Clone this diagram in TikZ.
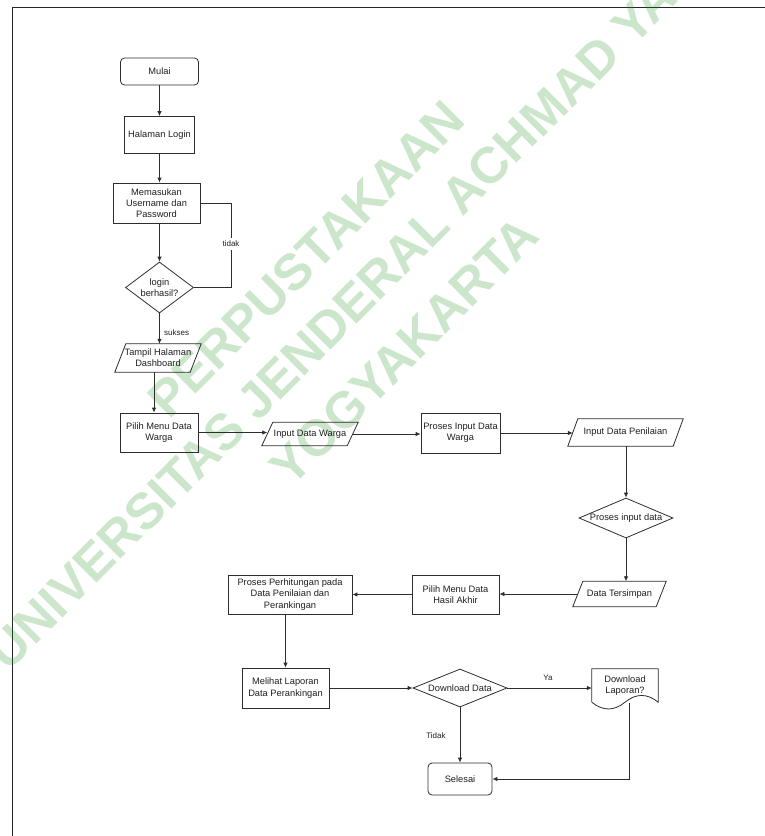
\documentclass[tikz,border=0pt]{standalone}
\usepackage{fontspec}
\setmainfont{Liberation Sans}
\usetikzlibrary{arrows.meta,shapes.geometric,calc}
\definecolor{ln}{RGB}{45,45,45}
\definecolor{wm}{RGB}{40,150,40}
\begin{document}
\begin{tikzpicture}[x=1pt,y=-1pt,
  ln/.style={draw=ln, line width=0.8pt},
  arr/.style={ln, -{Latex[length=5pt,width=4.5pt]}},
  txt/.style={font=\fontsize{9.3}{11.2}\selectfont, text=black!88, align=center, inner sep=0pt},
  box/.style 2 args={txt, ln, rectangle, minimum width=#1pt, minimum height=#2pt},
  term/.style 2 args={box={#1}{#2}, rounded corners=4pt},
  dec/.style 2 args={ln, diamond, minimum width=#1pt, minimum height=#2pt, inner sep=0pt},
  io/.style 2 args={txt, rectangle, minimum width=#1pt, minimum height=#2pt},
  lbl/.style={font=\fontsize{8}{9.6}\selectfont, text=black!88, inner sep=1pt},
  wmark/.style={font=\fontsize{51}{51}\selectfont\bfseries, text=wm, text opacity=0.24, rotate=45, inner sep=0pt},
]
\useasboundingbox (0,0) rectangle (765,836);
\clip (0,0) rectangle (765,836);

% page frame
\draw[draw=black!85, line width=1pt] (12,836) -- (12,7) -- (765,7);

% library watermark
\node[wmark] (wma) at (306,259) {PERPUSTAKAAN};
\node[wmark] (wmb) at (350,306) {UNIVERSITAS JENDERAL ACHMAD YANI};
\node[wmark] (wmc) at (404,351) {YOGYAKARTA};

% parallelogram outline around an io node
\newcommand{\ioshape}[2]{%
  \draw[ln] ([xshift=-#2pt]#1.south west) -- ([xshift=-#2pt]#1.south east)
    -- ([xshift=#2pt]#1.north east) -- ([xshift=#2pt]#1.north west) -- cycle;}

% nodes
\node[term={78}{27}] (mulai) at (159.5,71.5) {Mulai};
\node[box={70}{37}] (login) at (159.5,135) {Halaman Login};
\node[box={87}{40}] (masuk) at (156.5,203) {Memasukan\\Username dan\\Password};
\node[dec={68}{51}, label={[txt]center:login\\berhasil?}] (cek) at (159.5,287.5) {};
\node[io={75}{28}] (dash) at (158,358) {Tampil Halaman\\Dashboard};
\node[box={78}{39}] (pilih) at (159,432.5) {Pilih Menu Data\\Warga};
\node[io={85}{23}] (iwarga) at (310,434) {Input Data Warga};
\node[box={79}{40}] (pwarga) at (460.5,433) {Proses Input Data\\Warga};
\node[io={105}{27}] (inilai) at (625.5,432.5) {Input Data Penilaian};
\node[dec={94}{40}, label={[txt]center:Proses input data}] (pinput) at (626,518) {};
\node[io={83}{25}] (simpan) at (619.5,594) {Data Tersimpan};
\node[box={87}{39}] (hasil) at (455.5,594.5) {Pilih Menu Data\\Hasil Akhir};
\node[box={124}{39}] (hitung) at (290,594.5) {Proses Perhitungan pada\\Data Penilaian dan\\Perankingan};
\node[box={87}{40}] (lihat) at (285.5,688) {Melihat Laporan\\Data Perankingan};
\node[dec={94}{38}, label={[txt]center:Download Data}] (dl) at (460,688) {};
\node[io={66}{33}] (doc) at (625,685.5) {Download\\Laporan?};
\node[term={64}{32}] (selesai) at (460,779) {Selesai};

% io outlines
\ioshape{dash}{5.5}
\ioshape{iwarga}{5.5}
\ioshape{inilai}{5}
\ioshape{simpan}{5}

% document outline with wavy bottom
\draw[ln] (doc.south west) -- (doc.north west) -- (doc.north east) -- (doc.south east)
  .. controls ($(doc.south east)+(-11,-9)$) and ($(doc.south)+(11,-9)$) .. (doc.south)
  .. controls ($(doc.south)+(-11,9)$) and ($(doc.south west)+(11,9)$) .. (doc.south west);
\coordinate (dout) at ($(doc.south)+(4,1)$);

% connectors
\draw[arr] (mulai) -- (login);
\draw[arr] (login) -- (login.south |- masuk.north);
\draw[arr] (masuk.south -| cek) -- (cek.north);
\draw[ln] (masuk.east) -- ++(31,0) |- (cek.east);
\node[lbl, fill=white, inner ysep=3pt] (ltidak) at (231,244) {tidak};
\draw[arr] (cek.south) -- (cek.south |- dash.north);
\node[lbl, anchor=west] (lsukses) at (163,333) {sukses};
\draw[arr] ([xshift=-4pt]dash.south) -- ([xshift=-4pt]dash.south |- pilih.north);
\draw[arr] (pilih.east) -- (pilih.east -| iwarga.west);
\draw[arr] (iwarga.east) -- (iwarga.east -| pwarga.west);
\draw[arr] (pwarga.east) -- (pwarga.east -| inilai.west);
\draw[arr] (inilai.south -| pinput) -- (pinput.north);
\draw[arr] (pinput.south) -- (pinput.south |- simpan.north);
\draw[arr] (simpan.west) -- (simpan.west -| hasil.east);
\draw[arr] (hasil.west) -- (hasil.west -| hitung.east);
\draw[arr] (hitung.south -| lihat) -- (lihat.north);
\draw[arr] (lihat.east) -- (dl.west);
\draw[arr] (dl.east) -- (dl.east -| doc.west);
\node[lbl] (lya) at (548,678) {Ya};
\draw[arr] (dl.south) -- (selesai.north);
\node[lbl] (ltdk) at (436,736) {Tidak};
\draw[arr] (dout) |- (selesai.east);
\end{tikzpicture}
\end{document}
